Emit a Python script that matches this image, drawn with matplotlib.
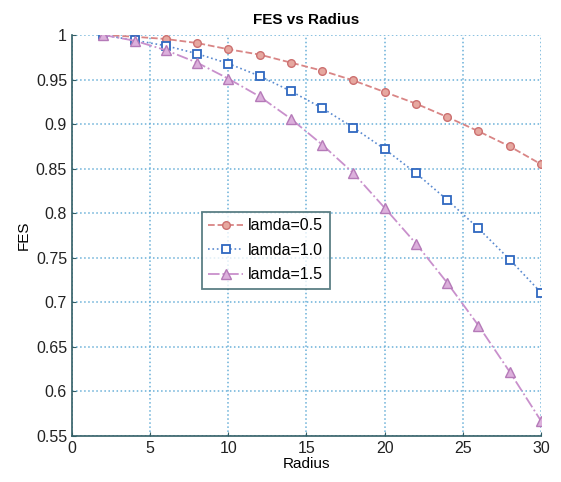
import numpy as np
import matplotlib
matplotlib.use('Agg')
import matplotlib.pyplot as plt

plt.rcParams['font.family'] = ['Liberation Sans', 'DejaVu Sans']

radius = [2, 4, 6, 8, 10, 12, 14, 16, 18, 20, 22, 24, 26, 28, 30]
fes_05 = [1.0, 0.998, 0.9955, 0.991, 0.984, 0.978, 0.969, 0.960, 0.949,
          0.936, 0.923, 0.908, 0.892, 0.875, 0.855]
fes_10 = [1.0, 0.994, 0.988, 0.979, 0.968, 0.954, 0.937, 0.918, 0.896,
          0.872, 0.845, 0.815, 0.783, 0.748, 0.711]
fes_15 = [1.0, 0.9936, 0.983, 0.969, 0.951, 0.931, 0.906, 0.877, 0.845,
          0.806, 0.766, 0.722, 0.674, 0.622, 0.567]

fig = plt.figure(figsize=(5.61, 4.82), dpi=100)
ax = fig.add_axes([0.1283, 0.0954, 0.8360, 0.8320])

ax.plot(radius, fes_05, '--o', color='#d98585', markerfacecolor='#e6a8a0',
        markeredgecolor='#cc7070', markersize=5.5, linewidth=1.3, label='lamda=0.5')
ax.plot(radius, fes_10, ':s', color='#5a8ad0', markerfacecolor='white',
        markeredgecolor='#2f68c0', markersize=5.5, markeredgewidth=1.3,
        linewidth=1.2, label='lamda=1.0')
ax.plot(radius, fes_15, '-.^', color='#c990cc', markerfacecolor='#dcb0dc',
        markeredgecolor='#b57ab8', markersize=6.5, linewidth=1.3, label='lamda=1.5')

ax.set_xlim(0, 30)
ax.set_ylim(0.55, 1.0)
ax.set_xticks(np.arange(0, 31, 5))
ax.set_yticks(np.arange(0.55, 1.001, 0.05))
ax.set_yticklabels(['0.55', '0.6', '0.65', '0.7', '0.75', '0.8', '0.85',
                    '0.9', '0.95', '1'])
ax.tick_params(labelsize=11.5, direction='in', length=3, color='#335f66',
               labelcolor='#222222')

ax.grid(True, linestyle=':', color='#6ab0d8', linewidth=1.1)
for s in ['top', 'right']:
    ax.spines[s].set_visible(False)
for s in ['left', 'bottom']:
    ax.spines[s].set_color('#335f66')
    ax.spines[s].set_linewidth(1.2)

ax.set_title('FES vs Radius', fontsize=11, pad=8, fontweight='semibold')
ax.set_xlabel('Radius', fontsize=11, labelpad=1)
ax.set_ylabel('FES', fontsize=11, labelpad=4)

leg = ax.legend(loc='upper left', bbox_to_anchor=(0.277, 0.559), fontsize=11.5,
                frameon=True, fancybox=False, handlelength=2.2,
                borderpad=0.4, labelspacing=0.6, handletextpad=0.3,
                borderaxespad=0)
leg.get_frame().set_edgecolor('#335f66')
leg.get_frame().set_linewidth(1.3)

fig.savefig('out.png', dpi=100)
